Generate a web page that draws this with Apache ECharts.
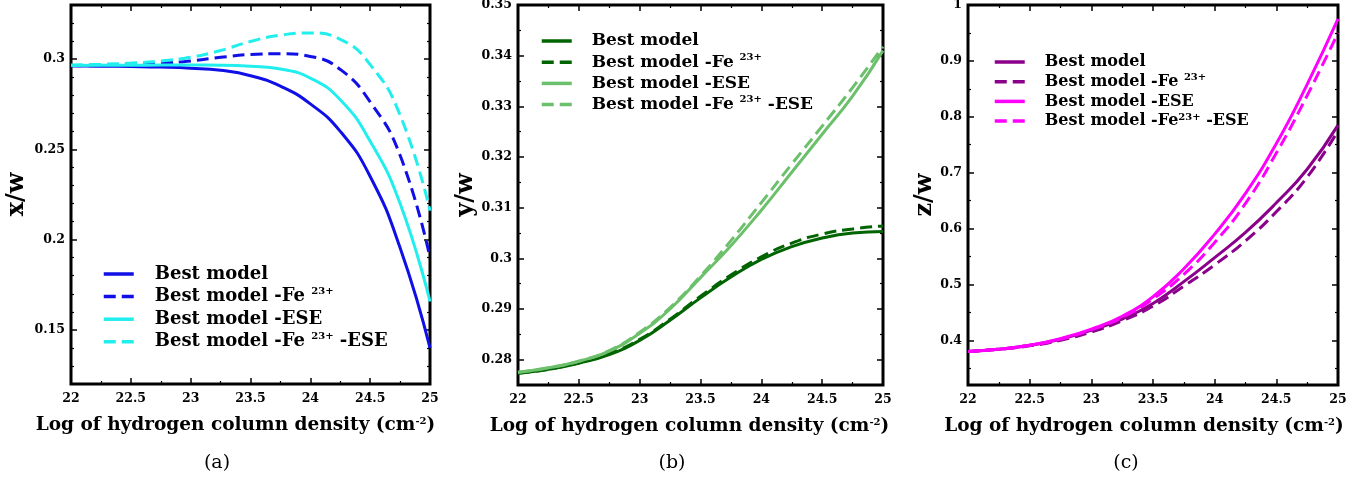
<!DOCTYPE html>
<html><head><meta charset="utf-8">
<script src="https://cdn.jsdelivr.net/npm/echarts@6/dist/echarts.min.js"></script>
<style>html,body{margin:0;padding:0;background:#fff}#c{width:1369px;height:478px}</style>
</head><body><div id="c"></div><script>
// ---- data ----
const xVals = [22, 22.25, 22.5, 22.75, 23, 23.25, 23.5, 23.75, 24, 24.25, 24.5, 24.75, 25];

// panel (a) x/w
const aBest   = [0.2963,0.2961,0.2959,0.2956,0.2950,0.2938,0.2908,0.2850,0.2752,0.2600,0.2350,0.1955,0.1400];
const aFe     = [0.2963,0.2965,0.2970,0.2978,0.2990,0.3010,0.3026,0.3030,0.3015,0.2943,0.2763,0.2467,0.1900];
const aESE    = [0.2965,0.2966,0.2966,0.2967,0.2967,0.2966,0.2960,0.2945,0.2895,0.2775,0.2545,0.2200,0.1657];
const aFeESE  = [0.2968,0.2972,0.2978,0.2990,0.3010,0.3048,0.3098,0.3133,0.3145,0.3110,0.2970,0.2690,0.2160];
const aMajor  = [0.15, 0.2, 0.25, 0.3];
const aMinor  = [0.13,0.14,0.16,0.17,0.18,0.19,0.21,0.22,0.23,0.24,0.26,0.27,0.28,0.29,0.31,0.32];

// panel (b) y/w
const bBest   = [0.2773,0.2781,0.2793,0.2810,0.2838,0.2878,0.2922,0.2963,0.2998,0.3023,0.3040,0.3050,0.3053];
const bFe     = [0.2773,0.2781,0.2794,0.2812,0.2840,0.2880,0.2925,0.2967,0.3003,0.3030,0.3048,0.3058,0.3064];
const bESE    = [0.2775,0.2784,0.2797,0.2817,0.2852,0.2900,0.2962,0.3025,0.3095,0.3170,0.3245,0.3320,0.3410];
const bFeESE  = [0.2775,0.2784,0.2797,0.2818,0.2854,0.2903,0.2965,0.3035,0.3110,0.3186,0.3261,0.3337,0.3418];
const bMajor  = [0.28, 0.29, 0.3, 0.31, 0.32, 0.33, 0.34, 0.35];
const bMinor  = [0.285, 0.295, 0.305, 0.315, 0.325, 0.335, 0.345];

// panel (c) z/w
const cBest   = [0.380,0.384,0.391,0.402,0.418,0.438,0.466,0.505,0.548,0.593,0.646,0.706,0.785];
const cFe     = [0.380,0.384,0.390,0.400,0.415,0.435,0.461,0.497,0.535,0.578,0.630,0.692,0.775];
const cESE    = [0.380,0.384,0.391,0.403,0.420,0.443,0.478,0.528,0.590,0.663,0.752,0.858,0.975];
const cFeESE  = [0.380,0.384,0.391,0.402,0.419,0.441,0.474,0.518,0.575,0.645,0.735,0.838,0.950];
const cMajor  = [0.4, 0.5, 0.6, 0.7, 0.8, 0.9, 1];
const cMinor  = [0.35, 0.45, 0.55, 0.65, 0.75, 0.85, 0.95];

const xName = 'Log of hydrogen column density (cm{sup|-2})';

// ---- chart ----
const FONT = '"DejaVu Serif", "Liberation Serif", serif';
const panels = [
  { key:'a', yName:'x/w', ymin:0.12, ymax:0.33, major:aMajor, minor:aMinor,
    grid:{left:71, top:5, width:359, height:379}, yGap:42, xPad:30,
    colors:['#0f0fe6','#0f0fe6','#22eeee','#22eeee'],
    data:[aBest,aFe,aESE,aFeESE],
    labels:['Best model','Best model -Fe {sup|23+}','Best model -ESE','Best model -Fe {sup|23+} -ESE'],
    legend:{left:102, top:264, fs:18, lh:20, gap:2.6, pad:16},
    cap:{text:'(a)', x:217} },
  { key:'b', yName:'y/w', ymin:0.275, ymax:0.35, major:bMajor, minor:bMinor,
    grid:{left:518, top:5, width:365, height:380}, yGap:28, xPad:22,
    colors:['#006400','#006400','#6cc06c','#6cc06c'],
    data:[bBest,bFe,bESE,bFeESE],
    labels:['Best model','Best model -Fe {sup|23+}','Best model -ESE','Best model -Fe {sup|23+} -ESE'],
    legend:{left:540, top:31, fs:17, lh:20, gap:1.2, pad:15},
    cap:{text:'(b)', x:672} },
  { key:'c', yName:'z/w', ymin:0.32, ymax:1.0, major:cMajor, minor:cMinor,
    grid:{left:968, top:5, width:370, height:380}, yGap:31, xPad:18,
    colors:['#8b008b','#8b008b','#ff00ff','#ff00ff'],
    data:[cBest,cFe,cESE,cFeESE],
    labels:['Best model','Best model -Fe {sup|23+}','Best model -ESE','Best model -Fe{sup|23+} -ESE'],
    legend:{left:993, top:53, fs:16, lh:18, gap:1.7, pad:15},
    cap:{text:'(c)', x:1126} }
];
const seriesNames = ['Best model','Fe','ESE','FeESE'];
const dashes = [null, [12,6], null, [12,6]];
const fmt = v => String(+(+v).toFixed(3));

const grids=[], xAxes=[], yAxes=[], series=[], legends=[], graphics=[];
panels.forEach((p, i) => {
  grids.push(Object.assign({show:true, borderColor:'#000', borderWidth:3, backgroundColor:'#fff', outerBoundsMode:'none'}, p.grid));
  const xBase = {type:'value', gridIndex:i, min:22, max:25, interval:0.5,
    axisLine:{show:false}, splitLine:{show:false},
    axisTick:{inside:true, length:6, lineStyle:{color:'#000', width:1.5}},
    minorTick:{show:true, splitNumber:2, length:3, lineStyle:{color:'#000', width:1.2}}};
  xAxes.push(Object.assign({}, xBase, {position:'bottom',
    axisLabel:{fontFamily:FONT, fontWeight:'bold', fontSize:12.5, color:'#000', margin:8, formatter:fmt},
    name:xName, nameLocation:'middle', nameGap:32,
    nameTextStyle:{fontFamily:FONT, fontWeight:'bold', fontSize:18.5, color:'#000', padding:[0,p.xPad,0,0],
      rich:{sup:{fontFamily:FONT, fontWeight:'bold', fontSize:10, color:'#000', verticalAlign:'top', lineHeight:10}}}}));
  xAxes.push(Object.assign({}, xBase, {position:'top', axisLabel:{show:false}}));
  const yBase = {type:'value', gridIndex:i, min:p.ymin, max:p.ymax,
    axisLine:{show:false}, splitLine:{show:false}};
  yAxes.push(Object.assign({}, yBase, {position:'left',
    axisTick:{inside:true, length:6, customValues:p.major, lineStyle:{color:'#000', width:1.5}},
    axisLabel:{customValues:p.major, fontFamily:FONT, fontWeight:'bold', fontSize:12.5, color:'#000', margin:6, formatter:fmt},
    name:p.yName, nameLocation:'middle', nameGap:p.yGap,
    nameTextStyle:{fontFamily:FONT, fontWeight:'bold', fontSize:24, color:'#000'}}));
  yAxes.push(Object.assign({}, yBase, {position:'left',
    axisTick:{inside:true, length:3, customValues:p.minor, lineStyle:{color:'#000', width:1.2}},
    axisLabel:{show:false}}));
  yAxes.push(Object.assign({}, yBase, {position:'right',
    axisTick:{inside:true, length:6, customValues:p.major, lineStyle:{color:'#000', width:1.5}},
    axisLabel:{show:false}}));
  yAxes.push(Object.assign({}, yBase, {position:'right',
    axisTick:{inside:true, length:3, customValues:p.minor, lineStyle:{color:'#000', width:1.2}},
    axisLabel:{show:false}}));
  const names = [];
  p.data.forEach((arr, k) => {
    const nm = p.key + ':' + seriesNames[k];
    names.push(nm);
    series.push({type:'line', name:nm, xAxisIndex:2*i, yAxisIndex:4*i, smooth:0.5,
      showSymbol:false, symbol:'none', animation:false, silent:true,
      lineStyle:{color:p.colors[k], width:3, type: dashes[k] || 'solid', cap:'butt'},
      itemStyle:{color:p.colors[k]},
      data: xVals.map((x, j) => [x, arr[j]])});
  });
  const lg = p.legend;
  legends.push({orient:'vertical', left:lg.left, top:lg.top, padding:0, itemGap:lg.gap,
    itemWidth:30, itemHeight:14, selectedMode:false, data:names,
    itemStyle:{opacity:0, borderWidth:0},
    lineStyle:{width:3.5},
    formatter: n => p.labels[names.indexOf(n)],
    textStyle:{fontFamily:FONT, fontWeight:'bold', fontSize:lg.fs, color:'#000', lineHeight:lg.lh, padding:[0,0,0,lg.pad],
      rich:{sup:{fontFamily:FONT, fontWeight:'bold', fontSize:10, color:'#000', verticalAlign:'top', lineHeight:9}}}});
  graphics.push({type:'text', x:p.cap.x, y:463, style:{text:p.cap.text, fontFamily:FONT, fontSize:19, fill:'#000', align:'center', verticalAlign:'middle'}});
});

const chart = echarts.init(document.getElementById('c'), null, {renderer:'canvas'});
chart.setOption({animation:false, backgroundColor:'#fff', grid:grids, xAxis:xAxes, yAxis:yAxes,
  series:series, legend:legends, graphic:graphics});
</script></body></html>
